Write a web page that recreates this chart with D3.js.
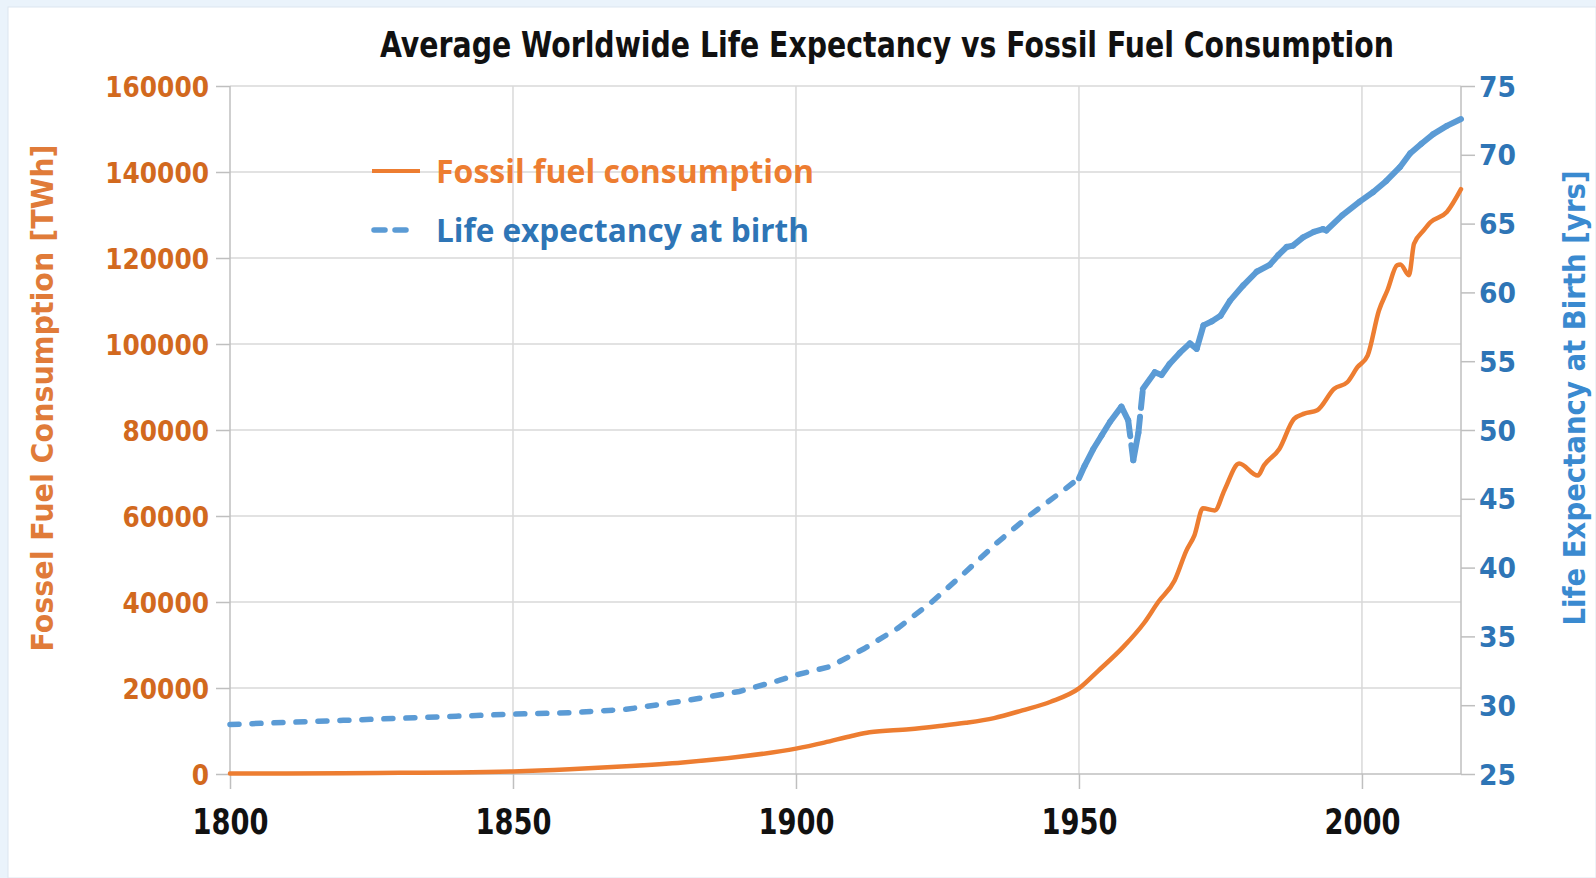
<!DOCTYPE html>
<html><head><meta charset="utf-8">
<script src="https://cdn.jsdelivr.net/npm/d3@7"></script>
<style>
html,body{margin:0;padding:0;background:#EAF3FB;overflow:hidden;}
svg{display:block;}
</style></head><body>
<svg id="chart" width="1596" height="878"></svg>
<script>
// ---- data ----
const fossilYears = [1800,1810,1820,1830,1840,1850,1860,1870,1880,1890,1900,1905,1910,1913,1920,1925,1930,1935,1940,1945,1950,
  1953.4,1957.8,1961.6,1964,1966.9,1969,1970.4,1971.9,1974,1975.7,1978.3,1981.6,1982.7,1985.4,1988,1989.8,1992.1,1995.1,1997.4,1999.2,2001,2003,2004.5,2006.2,2006.8,2008.3,2009.2,2010.9,2012.1,2015,2017.5];
const fossilValues = [100,130,160,270,360,600,1100,1800,2700,4000,5900,7300,8900,9700,10400,11100,11900,13000,14800,16800,19900,
  24000,29500,35300,40000,45000,52000,55500,61800,61300,66000,72200,69400,71800,75600,82600,83800,84600,89600,91100,94600,97300,107800,112500,118300,118500,116000,123300,126400,128300,130700,136000];

const lifeYears = [1800,1810,1820,1830,1840,1850,1860,1870,1880,1890,1897,1900,1906,1912,1918,1924,1930,1935.5,1941.3,1947.2,1950,
  1951,1952.5,1954,1955.5,1957.5,1958.7,1959.6,1960.5,1961.3,1963.4,1964.6,1966,1967.8,1969.6,1970.8,1972,1973.5,1975,1976.7,1979,1981.4,1983.7,1985.2,1986.7,1987.8,1989.6,1991.5,1993.1,1993.7,1996.5,1999.6,2002,2004.3,2006.7,2008.5,2010.5,2012.6,2015,2017.5];
const lifeValues = [28.6,28.75,28.9,29.05,29.2,29.35,29.45,29.7,30.3,31.0,31.8,32.2,32.8,34.1,35.6,37.5,39.7,41.8,43.8,45.6,46.5,
  47.4,48.6,49.6,50.6,51.7,50.7,47.8,49.8,53.0,54.2,54.0,54.8,55.6,56.3,55.9,57.6,57.9,58.3,59.4,60.5,61.5,62.0,62.7,63.3,63.4,64.0,64.4,64.6,64.5,65.6,66.6,67.3,68.1,69.1,70.1,70.8,71.5,72.1,72.6];

const xTicks = [1800,1850,1900,1950,2000];
const leftTicks = [0,20000,40000,60000,80000,100000,120000,140000,160000];
const rightTicks = [25,30,35,40,45,50,55,60,65,70,75];

const titleText = "Average Worldwide Life Expectancy vs Fossil Fuel Consumption";
const leftTitle = "Fossel Fuel Consumption [TWh]";
const rightTitle = "Life Expectancy at Birth [yrs]";
const seriesNames = ["Fossil fuel consumption","Life expectancy at birth"];

// ---- layout / style ----
const W = 1596, H = 878;
const L = 230, R = 1461, T = 86, B = 774;
const ORANGE = "#ED7D31", BLUE = "#5B9BD5";
const ORANGE_TXT = "#D2691E", BLUE_TXT = "#2E75B6";
const GRID = "#D9D9D9", AXIS = "#BFBFBF";
const NARROW = "'Liberation Sans Narrow','DejaVu Sans Condensed',sans-serif";

const svg = d3.select("#chart");
svg.append("rect").attr("x",8).attr("y",7).attr("width",W-8).attr("height",H-7).attr("fill","#fff")
  .attr("stroke","#DCE6F0").attr("stroke-width",1);

const x = d3.scaleLinear().domain([1800,2017.5]).range([L,R]);
const yL = d3.scaleLinear().domain([0,160000]).range([B,T]);
const yR = d3.scaleLinear().domain([25,75]).range([B,T]);

// grid
const g = svg.append("g");
g.selectAll(".hg").data(leftTicks.filter(d=>d>0)).join("line")
  .attr("x1",L).attr("x2",R).attr("y1",d=>yL(d)).attr("y2",d=>yL(d))
  .attr("stroke",GRID).attr("stroke-width",1.5);
g.selectAll(".vg").data(xTicks.filter(d=>d>1800)).join("line")
  .attr("x1",d=>x(d)).attr("x2",d=>x(d)).attr("y1",T).attr("y2",B)
  .attr("stroke",GRID).attr("stroke-width",1.5);

// axes
const ax = svg.append("g").attr("transform",`translate(0,${B})`)
  .call(d3.axisBottom(x).tickValues(xTicks).tickFormat(d3.format("d")).tickSize(15).tickPadding(23));
const ayl = svg.append("g").attr("transform",`translate(${L},0)`)
  .call(d3.axisLeft(yL).tickValues(leftTicks).tickFormat(d3.format("d")).tickSize(14).tickPadding(7));
const ayr = svg.append("g").attr("transform",`translate(${R},0)`)
  .call(d3.axisRight(yR).tickValues(rightTicks).tickFormat(d3.format("d")).tickSize(14).tickPadding(4));

[ax,ayl,ayr].forEach(a=>{
  a.select(".domain").attr("stroke",AXIS).attr("stroke-width",1.5);
  a.selectAll(".tick line").attr("stroke",AXIS).attr("stroke-width",1.5);
});
ax.select(".domain").attr("d",`M${L},0H${R}`);
ayl.select(".domain").attr("d",`M0,${B}V${T}`);
ayr.select(".domain").attr("d",`M0,${B}V${T}`);

ax.selectAll(".tick text").attr("fill","#111").style("font-family",NARROW).style("font-weight","bold")
  .style("font-size","35px").attr("dy","0.62em")
  .attr("textLength",d=>String(d).length*19).attr("lengthAdjust","spacingAndGlyphs");
ayl.selectAll(".tick text").attr("fill",ORANGE_TXT).style("font-family","'DejaVu Sans',sans-serif").style("font-weight","bold")
  .style("font-size","28px").attr("dy","0.36em")
  .attr("textLength",d=>String(d).length*17.3).attr("lengthAdjust","spacingAndGlyphs");
ayr.selectAll(".tick text").attr("fill",BLUE_TXT).style("font-family","'DejaVu Sans',sans-serif").style("font-weight","bold")
  .style("font-size","28px").attr("dy","0.36em")
  .attr("textLength",d=>String(d).length*18.5).attr("lengthAdjust","spacingAndGlyphs");

// lines
const fossil = fossilYears.map((yr,i)=>[yr,fossilValues[i]]);
const life = lifeYears.map((yr,i)=>[yr,lifeValues[i]]);

svg.append("path").datum(fossil)
  .attr("d",d3.line().curve(d3.curveMonotoneX).x(d=>x(d[0])).y(d=>yL(d[1])))
  .attr("fill","none").attr("stroke",ORANGE).attr("stroke-width",4.5).attr("stroke-linejoin","round").attr("stroke-linecap","round");

const lifeLine = d3.line().x(d=>x(d[0])).y(d=>yR(d[1]));
const early = life.filter(d=>d[0]<=1950);
const late = life.filter(d=>d[0]>=1950);
svg.append("path").datum(early).attr("d",lifeLine)
  .attr("fill","none").attr("stroke",BLUE).attr("stroke-width",5.5)
  .attr("stroke-dasharray","9,13").attr("stroke-linecap","round");
// later, densely sampled part: dash pattern restarts on every segment (as in the source rendering)
const segs = d3.pairs(late);
svg.append("g").selectAll("path").data(segs).join("path")
  .attr("d",d=>lifeLine(d))
  .attr("fill","none").attr("stroke",BLUE).attr("stroke-width",6).attr("stroke-linecap","round")
  .attr("stroke-dasharray",d=>{
    const dx=x(d[1][0])-x(d[0][0]), dy=yR(d[1][1])-yR(d[0][1]);
    return Math.hypot(dx,dy)>30 ? "16,9" : null;
  });

// title
svg.append("text").attr("x",887).attr("y",57).attr("text-anchor","middle")
  .style("font-family",NARROW).style("font-weight","bold").style("font-size","35px").attr("fill","#111")
  .attr("textLength",1014).attr("lengthAdjust","spacingAndGlyphs").text(titleText);

// axis titles
svg.append("text").attr("transform","translate(53,398) rotate(-90)").attr("text-anchor","middle")
  .style("font-family",NARROW).style("font-weight","bold").style("font-size","31px").attr("fill","#E07B39")
  .attr("textLength",507).attr("lengthAdjust","spacingAndGlyphs").text(leftTitle);
svg.append("text").attr("transform","translate(1585,398) rotate(-90)").attr("text-anchor","middle")
  .style("font-family",NARROW).style("font-weight","bold").style("font-size","31px").attr("fill","#3A8AD0")
  .attr("textLength",455).attr("lengthAdjust","spacingAndGlyphs").text(rightTitle);

// legend
const lg = svg.append("g");
lg.append("line").attr("x1",372).attr("x2",420).attr("y1",171).attr("y2",171)
  .attr("stroke",ORANGE).attr("stroke-width",4);
lg.append("text").attr("x",436).attr("y",183).text(seriesNames[0])
  .style("font-family","'Open Sans',sans-serif").style("font-weight","bold").style("font-size","33px").attr("fill",ORANGE)
  .attr("textLength",378).attr("lengthAdjust","spacingAndGlyphs");
lg.append("line").attr("x1",374).attr("x2",412).attr("y1",230).attr("y2",230)
  .attr("stroke",BLUE).attr("stroke-width",5.5).attr("stroke-dasharray","11,10").attr("stroke-linecap","round");
lg.append("text").attr("x",436).attr("y",242).text(seriesNames[1])
  .style("font-family","'Open Sans',sans-serif").style("font-weight","bold").style("font-size","33px").attr("fill",BLUE_TXT)
  .attr("textLength",373).attr("lengthAdjust","spacingAndGlyphs");
</script>
</body></html>
